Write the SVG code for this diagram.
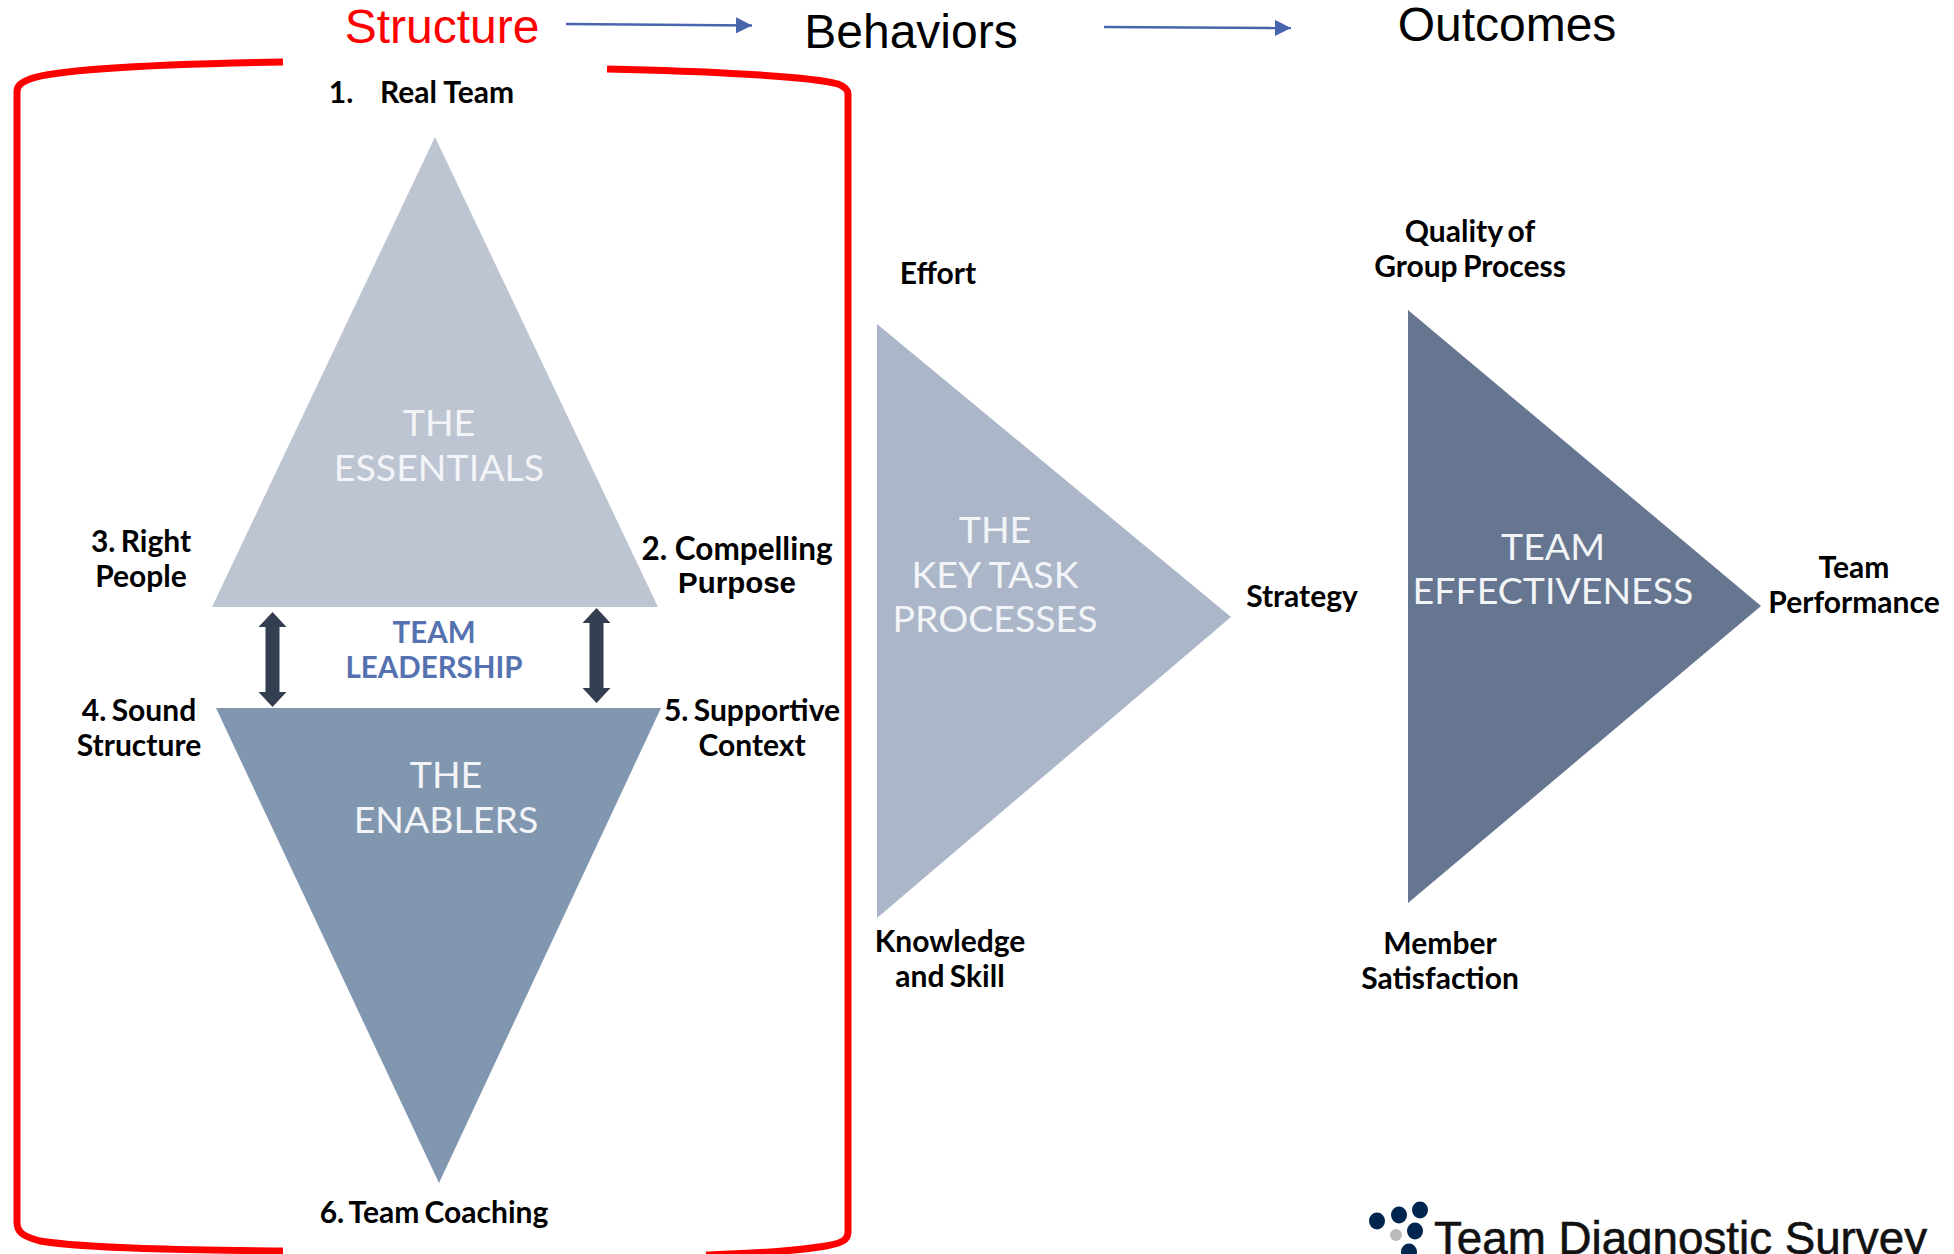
<svg xmlns="http://www.w3.org/2000/svg" width="1954" height="1254" viewBox="0 0 1954 1254">
<style>
.h{font-family:"Liberation Sans",Arial,sans-serif;font-size:48px;text-anchor:middle;fill:#000}
.l{font-family:Lato,"Liberation Sans",sans-serif;font-size:30px;font-weight:700;text-anchor:middle;fill:#000;word-spacing:-2px}
.b{font-family:"Liberation Sans",Arial,sans-serif;font-size:29.500px;font-weight:700;text-anchor:middle;fill:#000}
.w{font-family:Lato,"Liberation Sans",sans-serif;font-size:37.500px;text-anchor:middle;fill:#f2f4f7}
.t{font-family:Lato,"Liberation Sans",sans-serif;font-size:29.500px;font-weight:700;text-anchor:middle;fill:#5572b0}
.d{fill:#00254f}
</style>
<defs>
<marker id="ah" markerUnits="userSpaceOnUse" markerWidth="16" markerHeight="16" refX="16" refY="8" orient="auto"><path d="M0 0L16 8L0 16Z" fill="#4766ae"/></marker>
<path id="dbl" d="M0 0L14 15H7V80H14L0 95L-14 80H-7V15H-14Z" fill="#333f50"/>
</defs>
<rect width="1954" height="1254" fill="#fff"/>
<g id="bracket" fill="none" stroke="#f00" stroke-width="7">
<path d="M283 62C170 64 60 68 30 79C20 83 17 86 17 92V1222C17 1232 22 1236 40 1241C90 1249 200 1250 283 1251"/>
<path d="M607 69C700 71 810 76 838 84C846 87 848 90 848 94V1232C848 1240 842 1243 826 1246C790 1252 750 1253 706 1255"/>
</g>
<g id="connectors">
<path d="M566 24L752 25.500" stroke="#4766ae" stroke-width="2.500" fill="none" marker-end="url(#ah)"/>
<path d="M1104 27L1291 28" stroke="#4766ae" stroke-width="2.500" fill="none" marker-end="url(#ah)"/>
<use href="#dbl" x="272.500" y="612"/>
<use href="#dbl" x="596.500" y="608"/>
</g>
<g id="headers">
<text class="h" x="442" y="43" style="fill:#f00">Structure</text>
<text class="h" x="911" y="48">Behaviors</text>
<text class="h" x="1507" y="41">Outcomes</text>
</g>
<g id="essentials">
<polygon points="435,137 658,607 212,607" fill="#bec5d2"/>
<text class="w" x="439" y="435.500">THE</text>
<text class="w" x="439" y="480.500">ESSENTIALS</text>
</g>
<g id="enablers">
<polygon points="216,708 661,708 439,1183" fill="#8196af"/>
<text class="w" x="446" y="787.500">THE</text>
<text class="w" x="446" y="832.500">ENABLERS</text>
</g>
<g id="processes">
<polygon points="877,324 1231,617 877,918" fill="#abb6c9"/>
<text class="w" x="995" y="542.500">THE</text>
<text class="w" x="995" y="587.500">KEY TASK</text>
<text class="w" x="995" y="631.500">PROCESSES</text>
</g>
<g id="effectiveness">
<polygon points="1408,310 1761,606 1408,903" fill="#667590"/>
<text class="w" x="1553" y="559.500">TEAM</text>
<text class="w" x="1553" y="603.500">EFFECTIVENESS</text>
</g>
<g id="leadership">
<text class="t" x="434" y="643">TEAM</text>
<text class="t" x="434" y="678">LEADERSHIP</text>
</g>
<g id="labels">
<text class="l" x="341" y="103">1.</text>
<text class="l" x="447" y="103" style="word-spacing:0">Real Team</text>
<text class="l" x="141" y="552">3. Right</text>
<text class="l" x="141" y="587">People</text>
<text class="l" x="737" y="560" style="font-size:31.500px;word-spacing:0">2. Compelling</text>
<text class="b" x="737" y="593">Purpose</text>
<text class="l" x="139" y="720.500">4. Sound</text>
<text class="l" x="139" y="755.500">Structure</text>
<text class="l" x="752" y="720.500">5. Supportive</text>
<text class="l" x="752" y="755.500">Context</text>
<text class="l" x="434" y="1223">6. Team Coaching</text>
<text class="l" x="938" y="283.500">Effort</text>
<text class="l" x="950" y="951.500">Knowledge</text>
<text class="l" x="950" y="986.500">and Skill</text>
<text class="l" x="1470" y="241.500">Quality of</text>
<text class="l" x="1470" y="276.500">Group Process</text>
<text class="l" x="1302" y="606.500">Strategy</text>
<text class="l" x="1440" y="953.500">Member</text>
<text class="l" x="1440" y="988.500">Satisfaction</text>
<text class="l" x="1854" y="577.500">Team</text>
<text class="l" x="1854" y="612.500">Performance</text>
</g>
<g id="logo">
<ellipse class="d" cx="1377" cy="1221" rx="8" ry="8.500"/>
<ellipse class="d" cx="1399" cy="1215" rx="8" ry="8.500"/>
<ellipse class="d" cx="1420" cy="1210" rx="8" ry="8.500"/>
<ellipse cx="1396" cy="1235" rx="6" ry="6" fill="#bbb"/>
<ellipse class="d" cx="1415" cy="1231" rx="8" ry="8.500"/>
<ellipse class="d" cx="1409" cy="1252" rx="8" ry="8.500"/>
<text x="1434" y="1254" font-family="Liberation Sans, Arial, sans-serif" font-size="46" textLength="493" lengthAdjust="spacingAndGlyphs" fill="#111" stroke="#111" stroke-width="0.600">Team Diagnostic Survey</text>
</g>
</svg>
